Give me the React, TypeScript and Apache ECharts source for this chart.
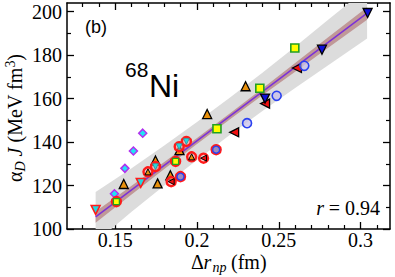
import React, { useEffect, useRef } from 'react';
import * as echarts from 'echarts';

// Axis ticks
const xMajorTicks = [0.15, 0.2, 0.25, 0.3];
const xMinorTicks = [0.13, 0.14, 0.16, 0.17, 0.18, 0.19, 0.21, 0.22, 0.23, 0.24, 0.26, 0.27, 0.28, 0.29, 0.31];
const yMajorTicks = [100, 120, 140, 160, 180, 200];
const yMinorTicks = [110, 130, 150, 170, 190];
const xMin = 0.1205;
const xMax = 0.318;
const yMin = 100;
const yMax = 204;

// Linear fit and bands
const fitX = [0.138, 0.304];
const fitY = [105.6, 199.3];
const bandX = [0.138, 0.16, 0.18, 0.2, 0.22, 0.24, 0.26, 0.28, 0.304];
const grayUpper = [117.0, 127.9, 138.4, 149.2, 160.4, 171.9, 183.9, 196.2, 210.7];
const grayLower = [94.0, 107.9, 120.0, 131.8, 143.2, 154.3, 164.9, 175.2, 187.7];
const brownUpper = [108.1, 119.9, 130.8, 141.9, 153.2, 164.7, 176.4, 188.1, 202.1];
const brownLower = [102.9, 115.9, 127.6, 139.1, 150.4, 161.5, 172.4, 183.3, 196.3];

// Points
const diamondPts = [[0.1495, 116.2], [0.1559, 127.9], [0.1611, 135.9], [0.1668, 144.1]];
const redDownTriPts = [[0.138, 108.8], [0.1656, 121.2]];
const orangeUpPts = [[0.1552, 120.7], [0.1746, 131.5], [0.1759, 121.0], [0.1837, 124.7], [0.1893, 136.3], [0.2062, 152.9], [0.2297, 165.7]];
const yellowSqPts = [[0.2122, 146.1], [0.2384, 164.8], [0.2598, 183.3]];
const redLeftPts = [[0.2227, 144.5], [0.2416, 157.7], [0.2611, 174.1]];
const blueDownPts = [[0.2416, 160.0], [0.2764, 182.5], [0.3043, 199.4]];
const blueCirclePts = [[0.2306, 148.7], [0.2487, 161.3], [0.2656, 175.1]];
// Ringed (red circle) points with their inner markers
const ringSqPts = [[0.1507, 112.6], [0.1869, 131.1]];
const ringCyanPts = [[0.1746, 128.7], [0.1891, 137.9], [0.1935, 140.3]];
const ringOrangePts = [[0.17, 126.3], [0.1967, 133.2]];
const ringLeftPts = [[0.204, 132.6], [0.1842, 121.8]];
const ringPurplePts = [[0.1899, 124.1], [0.2117, 136.5]];

const SERIF = "'Liberation Serif', 'Times New Roman', serif";
const SANS = "'Liberation Sans', Arial, sans-serif";

function bandSeries(upper: number[], lower: number[], color: string) {
  return {
    type: 'custom',
    clip: true,
    silent: true,
    z: 1,
    data: [[0.2, 140]],
    renderItem: (_params: any, api: any) => {
      const pts: number[][] = [];
      for (let i = 0; i < bandX.length; i++) pts.push(api.coord([bandX[i], upper[i]]));
      for (let i = bandX.length - 1; i >= 0; i--) pts.push(api.coord([bandX[i], lower[i]]));
      return { type: 'polygon', shape: { points: pts }, style: { fill: color } };
    },
  };
}

function scatter(data: number[][], symbol: string, size: number, rotate: number, fill: string, border: string, bw: number, z: number) {
  return {
    type: 'scatter',
    data,
    symbol,
    symbolSize: size,
    symbolRotate: rotate,
    z,
    itemStyle: { color: fill, borderColor: border, borderWidth: bw, opacity: 1 },
  };
}

function txt(x: number, y: number, text: string, font: string, align = 'left', rotation = 0) {
  return { type: 'text', x, y, rotation, z: 10, style: { text, font, fill: '#000', align, verticalAlign: 'middle', lineHeight: 16 } };
}

export default function App() {
  const ref = useRef<HTMLDivElement>(null);
  useEffect(() => {
    if (!ref.current) return;
    const chart = echarts.init(ref.current, null, { renderer: 'svg' });
    const xBase = { type: 'value', min: xMin, max: xMax, splitLine: { show: false } };
    const yBase = { type: 'value', min: yMin, max: yMax, splitLine: { show: false } };
    const axLine = { show: true, onZero: false, lineStyle: { color: '#000', width: 1.5 } };
    const majTick = (vals: number[]) => ({ show: true, inside: true, length: 7, customValues: vals, lineStyle: { color: '#000', width: 1.3 } });
    const minTick = (vals: number[]) => ({ show: true, inside: true, length: 4, customValues: vals, lineStyle: { color: '#000', width: 1.2 } });
    const option: any = {
      animation: false,
      grid: { left: 67, right: 5, top: 3, bottom: 48, containLabel: false, outerBoundsMode: 'none' },
      xAxis: [
        { ...xBase, position: 'bottom', axisLine: axLine, axisTick: majTick(xMajorTicks),
          axisLabel: { show: true, customValues: xMajorTicks, formatter: (v: number) => String(v), margin: 3, lineHeight: 16, color: '#000', fontFamily: SERIF, fontSize: 20 } },
        { ...xBase, position: 'bottom', axisLine: { show: false }, axisTick: minTick(xMinorTicks), axisLabel: { show: false } },
        { ...xBase, position: 'top', axisLine: axLine, axisTick: majTick(xMajorTicks), axisLabel: { show: false } },
        { ...xBase, position: 'top', axisLine: { show: false }, axisTick: minTick(xMinorTicks), axisLabel: { show: false } },
      ],
      yAxis: [
        { ...yBase, position: 'left', axisLine: axLine, axisTick: majTick(yMajorTicks),
          axisLabel: { show: true, customValues: yMajorTicks, formatter: (v: number) => String(v), margin: 5, color: '#000', fontFamily: SERIF, fontSize: 20 } },
        { ...yBase, position: 'left', axisLine: { show: false }, axisTick: minTick(yMinorTicks), axisLabel: { show: false } },
        { ...yBase, position: 'right', axisLine: axLine, axisTick: majTick(yMajorTicks), axisLabel: { show: false } },
        { ...yBase, position: 'right', axisLine: { show: false }, axisTick: minTick(yMinorTicks), axisLabel: { show: false } },
      ],
      series: [
        bandSeries(grayUpper, grayLower, '#dcdcdc'),
        bandSeries(brownUpper, brownLower, '#c09898'),
        {
          type: 'line', z: 2, showSymbol: false, symbol: 'none', silent: true,
          data: fitX.map((x, i) => [x, fitY[i]]),
          lineStyle: { color: '#7b30d8', width: 1.5 },
        },
        scatter(diamondPts, 'diamond', 8, 0, '#20e4f4', '#b030ee', 1.5, 3),
        scatter(redDownTriPts, 'triangle', 9, 180, '#20d8e0', '#ff1a1a', 1.5, 3),
        scatter(orangeUpPts, 'triangle', 9, 0, '#e8900c', '#000', 1.3, 3),
        scatter(yellowSqPts, 'rect', 8, 0, '#ffff00', '#22a022', 1.6, 3),
        scatter(redLeftPts, 'triangle', 9, 90, '#f01010', '#000', 1.3, 3),
        scatter(blueDownPts, 'triangle', 9, 180, '#1010d8', '#000', 1.3, 3),
        scatter(blueCirclePts, 'circle', 9, 0, 'rgba(200,192,235,0.75)', '#2a40f0', 1.6, 3),
        scatter([...ringSqPts, ...ringCyanPts, ...ringOrangePts, ...ringLeftPts, ...ringPurplePts], 'circle', 9, 0, 'rgba(255,160,160,0.5)', '#ff1a1a', 2.4, 4),
        scatter(ringSqPts, 'rect', 6, 0, '#ffff00', '#22a022', 1.3, 5),
        scatter(ringCyanPts, 'triangle', 6, 180, '#20d8e0', '#3a8a90', 0.8, 5),
        scatter(ringOrangePts, 'triangle', 6, 0, '#e8900c', '#000', 1, 5),
        scatter(ringLeftPts, 'triangle', 6, 90, '#f01010', '#000', 1, 5),
        scatter(ringPurplePts, 'circle', 7, 0, '#9c8cc0', '#2a40f0', 1.4, 5),
      ],
      graphic: [
        txt(96, 27, '(b)', `18px ${SANS}`, 'center'),
        txt(125, 69, '68', `21px ${SANS}`),
        txt(149, 85.5, 'Ni', `32px ${SANS}`),
        txt(324, 208, 'r', `italic 20px ${SERIF}`, 'right'),
        txt(380, 208, '= 0.94', `20px ${SERIF}`, 'right'),
        txt(191, 261.5, 'Δ', `20px ${SERIF}`),
        txt(203.5, 261.5, 'r', `italic 20px ${SERIF}`),
        txt(212.5, 267.5, 'np', `italic 14px ${SERIF}`),
        txt(231, 261.5, '(fm)', `20px ${SERIF}`),
        { type: 'text', x: 15, y: 118, rotation: Math.PI / 2, z: 10, style: {
          text: 'α{sub|D} {i|J} (MeV fm{sup|3})', fontFamily: SERIF, fontSize: 20, lineHeight: 24, fill: '#000', align: 'center', verticalAlign: 'middle',
          rich: {
            i: { fontStyle: 'italic', fontFamily: SERIF, fontSize: 20, lineHeight: 24, fill: '#000' },
            sub: { fontStyle: 'italic', fontFamily: SERIF, fontSize: 14, lineHeight: 9, verticalAlign: 'bottom', fill: '#000' },
            sup: { fontFamily: SERIF, fontSize: 14, lineHeight: 9, verticalAlign: 'top', fill: '#000' },
          } } },
      ],
    };
    chart.setOption(option);
    return () => chart.dispose();
  }, []);
  return <div ref={ref} style={{ position: 'absolute', left: 0, top: 0, width: 395, height: 277 }} />;
}
